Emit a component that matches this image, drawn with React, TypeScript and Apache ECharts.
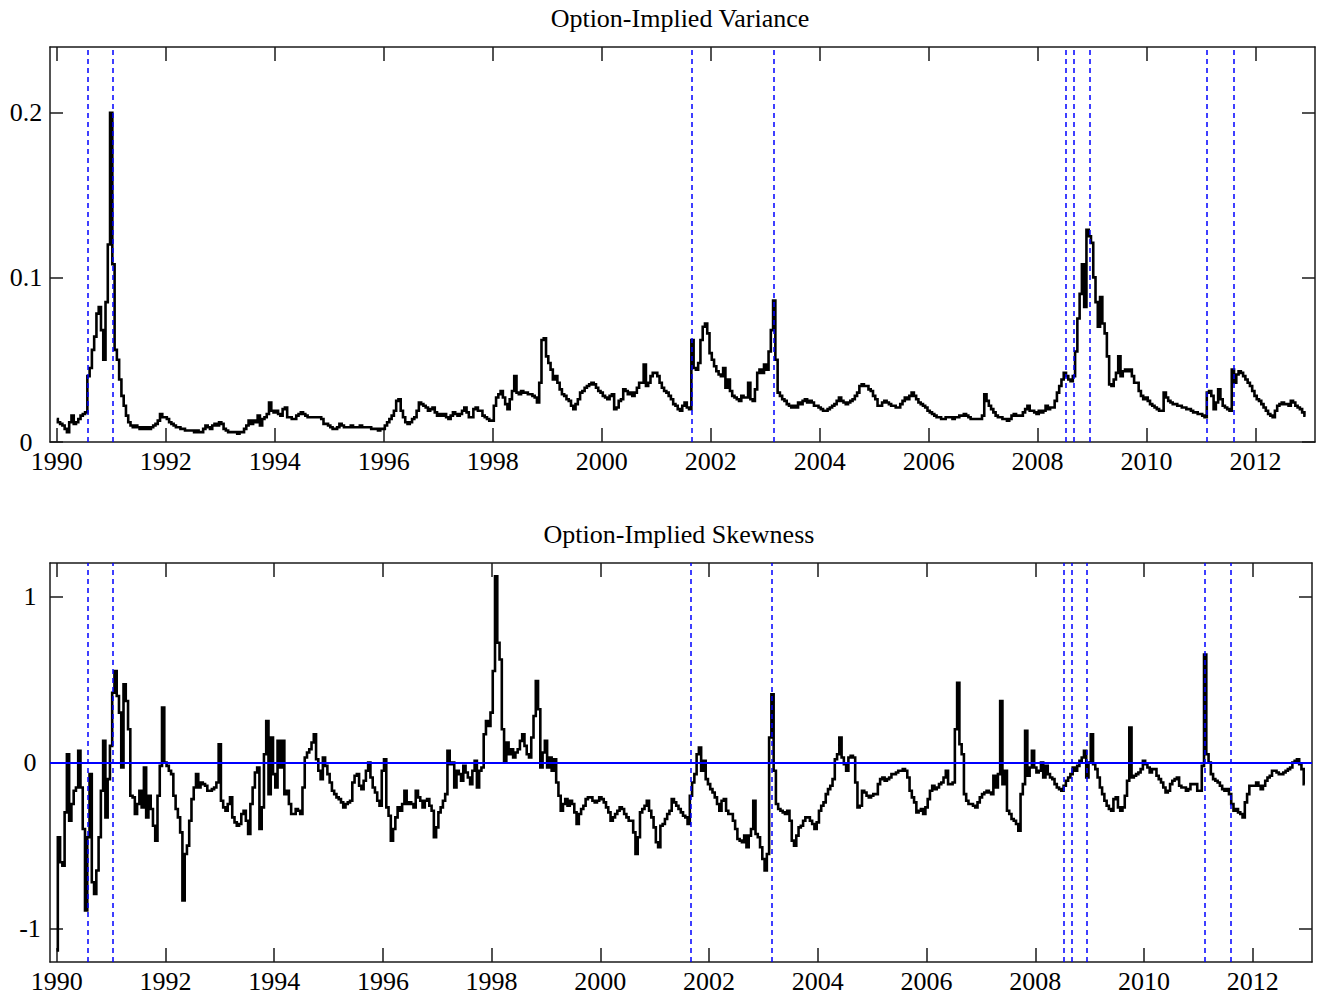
import React, { useEffect, useRef } from "react";
import * as echarts from "echarts";

// ---------- data ----------
const START_YEAR = 1990;
const POINTS_PER_YEAR = 24; // half-monthly observations

const yearTicks = [1990, 1992, 1994, 1996, 1998, 2000, 2002, 2004, 2006, 2008, 2010, 2012];
const varianceTicks = [0, 0.1, 0.2];
const skewnessTicks = [-1, 0, 1];
const eventDates = [1990.57, 1991.03, 2001.66, 2003.15, 2008.52, 2008.67, 2008.95, 2011.11, 2011.6];

const titleVariance = "Option-Implied Variance";
const titleSkewness = "Option-Implied Skewness";

// option-implied variance, half-monthly, Jan 1990 onwards
const variance = [
  0.014, 0.012, 0.011, 0.010, 0.008, 0.006, 0.012, 0.016, 0.011, 0.012, 0.014, 0.016, 0.017, 0.018, 0.040, 0.045, 0.056, 0.064, 0.078, 0.082, 0.068, 0.050, 0.085, 0.120,
  0.200, 0.108, 0.056, 0.050, 0.038, 0.028, 0.022, 0.016, 0.012, 0.010, 0.009, 0.010, 0.009, 0.008, 0.009, 0.008, 0.009, 0.008, 0.009, 0.010, 0.011, 0.013, 0.017, 0.015,
  0.015, 0.014, 0.012, 0.011, 0.010, 0.009, 0.009, 0.008, 0.008, 0.007, 0.007, 0.007, 0.007, 0.006, 0.007, 0.006, 0.006, 0.008, 0.010, 0.009, 0.008, 0.010, 0.011, 0.010,
  0.012, 0.011, 0.008, 0.007, 0.006, 0.006, 0.006, 0.006, 0.005, 0.006, 0.006, 0.008, 0.010, 0.013, 0.011, 0.013, 0.012, 0.016, 0.010, 0.014, 0.015, 0.017, 0.024, 0.019,
  0.018, 0.019, 0.017, 0.016, 0.020, 0.021, 0.015, 0.015, 0.014, 0.014, 0.016, 0.017, 0.018, 0.017, 0.016, 0.015, 0.015, 0.015, 0.015, 0.015, 0.015, 0.014, 0.011, 0.011,
  0.010, 0.009, 0.008, 0.008, 0.009, 0.011, 0.010, 0.009, 0.009, 0.009, 0.010, 0.009, 0.009, 0.009, 0.010, 0.009, 0.009, 0.009, 0.009, 0.008, 0.008, 0.008, 0.007, 0.008,
  0.008, 0.010, 0.012, 0.014, 0.016, 0.019, 0.025, 0.026, 0.019, 0.015, 0.012, 0.011, 0.012, 0.014, 0.015, 0.019, 0.024, 0.023, 0.022, 0.021, 0.019, 0.020, 0.021, 0.018,
  0.016, 0.017, 0.016, 0.017, 0.015, 0.014, 0.016, 0.018, 0.017, 0.016, 0.017, 0.019, 0.021, 0.018, 0.015, 0.015, 0.020, 0.021, 0.019, 0.019, 0.016, 0.015, 0.014, 0.013,
  0.013, 0.022, 0.027, 0.029, 0.031, 0.027, 0.023, 0.020, 0.026, 0.031, 0.040, 0.030, 0.029, 0.031, 0.030, 0.030, 0.029, 0.029, 0.028, 0.027, 0.024, 0.036, 0.062, 0.063,
  0.052, 0.048, 0.044, 0.038, 0.040, 0.036, 0.032, 0.029, 0.028, 0.026, 0.025, 0.022, 0.020, 0.023, 0.026, 0.030, 0.031, 0.033, 0.034, 0.035, 0.036, 0.035, 0.033, 0.031,
  0.030, 0.028, 0.027, 0.026, 0.028, 0.029, 0.020, 0.021, 0.025, 0.026, 0.032, 0.031, 0.029, 0.030, 0.028, 0.030, 0.033, 0.036, 0.036, 0.047, 0.034, 0.036, 0.040, 0.042,
  0.042, 0.040, 0.036, 0.033, 0.031, 0.030, 0.028, 0.026, 0.023, 0.022, 0.020, 0.019, 0.022, 0.024, 0.021, 0.020, 0.062, 0.045, 0.044, 0.048, 0.062, 0.070, 0.072, 0.066,
  0.054, 0.050, 0.046, 0.043, 0.041, 0.040, 0.045, 0.033, 0.038, 0.031, 0.028, 0.027, 0.026, 0.025, 0.028, 0.027, 0.027, 0.036, 0.026, 0.025, 0.032, 0.042, 0.044, 0.042,
  0.047, 0.044, 0.055, 0.068, 0.086, 0.050, 0.030, 0.028, 0.026, 0.025, 0.023, 0.022, 0.021, 0.022, 0.021, 0.024, 0.023, 0.025, 0.026, 0.024, 0.025, 0.024, 0.022, 0.022,
  0.021, 0.020, 0.019, 0.019, 0.020, 0.021, 0.022, 0.023, 0.025, 0.027, 0.025, 0.024, 0.023, 0.024, 0.025, 0.026, 0.028, 0.030, 0.034, 0.035, 0.034, 0.034, 0.032, 0.031,
  0.028, 0.026, 0.022, 0.022, 0.024, 0.025, 0.024, 0.023, 0.022, 0.022, 0.021, 0.021, 0.023, 0.025, 0.027, 0.026, 0.028, 0.030, 0.028, 0.026, 0.024, 0.023, 0.022, 0.021,
  0.019, 0.018, 0.017, 0.016, 0.015, 0.015, 0.014, 0.014, 0.015, 0.015, 0.015, 0.014, 0.015, 0.015, 0.016, 0.016, 0.017, 0.016, 0.015, 0.014, 0.014, 0.014, 0.014, 0.014,
  0.016, 0.029, 0.025, 0.022, 0.020, 0.018, 0.016, 0.015, 0.015, 0.014, 0.014, 0.013, 0.014, 0.016, 0.017, 0.016, 0.016, 0.016, 0.018, 0.020, 0.022, 0.019, 0.019, 0.018,
  0.017, 0.019, 0.018, 0.019, 0.022, 0.020, 0.021, 0.021, 0.025, 0.030, 0.034, 0.038, 0.042, 0.040, 0.038, 0.037, 0.040, 0.055, 0.075, 0.090, 0.108, 0.082, 0.129, 0.125,
  0.121, 0.100, 0.085, 0.070, 0.088, 0.072, 0.066, 0.052, 0.035, 0.034, 0.038, 0.042, 0.052, 0.040, 0.043, 0.044, 0.043, 0.044, 0.040, 0.036, 0.036, 0.031, 0.028, 0.026,
  0.027, 0.025, 0.023, 0.022, 0.021, 0.020, 0.019, 0.019, 0.030, 0.027, 0.025, 0.024, 0.023, 0.023, 0.022, 0.022, 0.021, 0.021, 0.020, 0.020, 0.019, 0.018, 0.018, 0.017,
  0.017, 0.016, 0.015, 0.030, 0.031, 0.028, 0.020, 0.024, 0.032, 0.026, 0.022, 0.021, 0.020, 0.019, 0.044, 0.036, 0.041, 0.043, 0.042, 0.040, 0.038, 0.036, 0.034, 0.031,
  0.028, 0.026, 0.025, 0.023, 0.021, 0.019, 0.017, 0.016, 0.015, 0.019, 0.022, 0.023, 0.024, 0.023, 0.023, 0.022, 0.025, 0.024, 0.022, 0.021, 0.020, 0.018, 0.016,
];

// option-implied skewness, half-monthly, Jan 1990 onwards
const skewness = [
  -1.13, -0.45, -0.60, -0.62, -0.30, 0.05, -0.35, -0.25, -0.17, -0.15, 0.07, -0.15, -0.40, -0.89, -0.45, -0.07, -0.72, -0.79, -0.65, -0.45, -0.17, 0.13, -0.33, -0.10,
  0.10, 0.42, 0.55, 0.40, 0.30, -0.03, 0.47, 0.37, 0.20, -0.20, -0.21, -0.31, -0.25, -0.17, -0.27, -0.03, -0.33, -0.20, -0.28, -0.38, -0.47, -0.20, -0.02, 0.33,
  0.00, -0.02, -0.05, -0.07, -0.20, -0.28, -0.33, -0.42, -0.83, -0.55, -0.50, -0.35, -0.22, -0.15, -0.07, -0.15, -0.12, -0.13, -0.14, -0.17, -0.17, -0.16, -0.15, -0.12,
  0.11, -0.23, -0.27, -0.29, -0.25, -0.21, -0.33, -0.36, -0.38, -0.37, -0.31, -0.29, -0.35, -0.43, -0.25, -0.15, -0.06, -0.03, -0.40, -0.27, 0.05, 0.25, -0.19, 0.15,
  -0.07, -0.15, 0.13, -0.03, 0.13, -0.19, -0.17, -0.25, -0.31, -0.31, -0.28, -0.29, -0.31, -0.15, 0.03, 0.06, 0.08, 0.12, 0.17, 0.02, -0.05, -0.10, 0.03, -0.02,
  -0.07, -0.12, -0.17, -0.19, -0.21, -0.22, -0.24, -0.27, -0.25, -0.24, -0.23, -0.12, -0.08, -0.07, -0.14, -0.16, -0.11, -0.05, 0.00, -0.09, -0.15, -0.18, -0.23, -0.26,
  -0.05, 0.02, -0.27, -0.32, -0.47, -0.40, -0.33, -0.27, -0.29, -0.25, -0.17, -0.25, -0.24, -0.25, -0.27, -0.17, -0.21, -0.23, -0.27, -0.23, -0.22, -0.26, -0.29, -0.45,
  -0.39, -0.30, -0.27, -0.23, -0.19, 0.07, -0.01, 0.00, -0.15, -0.05, -0.07, -0.11, -0.02, -0.06, -0.09, -0.13, -0.05, 0.01, -0.15, -0.05, -0.03, 0.17, 0.25, 0.22,
  0.30, 0.55, 1.12, 0.72, 0.62, 0.20, 0.00, 0.12, 0.05, 0.08, 0.03, 0.06, 0.08, 0.13, 0.17, 0.10, 0.05, 0.03, 0.15, 0.28, 0.49, 0.32, -0.03, 0.06,
  0.13, -0.03, 0.03, -0.05, 0.02, -0.12, -0.20, -0.29, -0.25, -0.22, -0.26, -0.23, -0.25, -0.30, -0.37, -0.31, -0.28, -0.26, -0.22, -0.21, -0.21, -0.23, -0.24, -0.23,
  -0.21, -0.22, -0.24, -0.27, -0.30, -0.35, -0.33, -0.31, -0.29, -0.27, -0.28, -0.31, -0.33, -0.35, -0.35, -0.42, -0.55, -0.45, -0.30, -0.28, -0.26, -0.23, -0.29, -0.33,
  -0.39, -0.48, -0.51, -0.38, -0.37, -0.34, -0.31, -0.29, -0.22, -0.24, -0.26, -0.28, -0.30, -0.32, -0.33, -0.37, -0.20, -0.12, -0.07, 0.05, 0.09, -0.05, 0.01, -0.10,
  -0.13, -0.16, -0.18, -0.21, -0.25, -0.29, -0.23, -0.22, -0.29, -0.31, -0.31, -0.35, -0.40, -0.46, -0.47, -0.48, -0.44, -0.51, -0.44, -0.40, -0.23, -0.43, -0.45, -0.51,
  -0.58, -0.65, -0.55, 0.15, 0.41, -0.05, -0.25, -0.28, -0.29, -0.30, -0.31, -0.29, -0.35, -0.47, -0.50, -0.44, -0.39, -0.38, -0.35, -0.33, -0.33, -0.35, -0.37, -0.40,
  -0.36, -0.29, -0.26, -0.24, -0.19, -0.16, -0.14, -0.10, 0.02, 0.05, 0.15, 0.03, -0.01, -0.05, 0.03, 0.04, 0.03, -0.12, -0.27, -0.26, -0.17, -0.18, -0.20, -0.21,
  -0.20, -0.19, -0.19, -0.13, -0.10, -0.09, -0.11, -0.10, -0.09, -0.07, -0.07, -0.06, -0.05, -0.05, -0.04, -0.05, -0.09, -0.17, -0.21, -0.24, -0.30, -0.29, -0.28, -0.31,
  -0.27, -0.22, -0.17, -0.14, -0.16, -0.15, -0.13, -0.12, -0.09, -0.05, -0.13, -0.13, -0.12, 0.20, 0.48, 0.11, 0.05, -0.19, -0.23, -0.25, -0.25, -0.26, -0.27, -0.24,
  -0.21, -0.19, -0.18, -0.17, -0.18, -0.19, -0.08, -0.15, -0.07, 0.37, -0.13, -0.05, -0.29, -0.31, -0.34, -0.35, -0.37, -0.41, -0.19, -0.13, 0.19, -0.08, -0.03, 0.07,
  -0.03, -0.06, -0.05, 0.00, -0.09, -0.02, -0.07, -0.09, -0.10, -0.13, -0.15, -0.16, -0.17, -0.14, -0.11, -0.09, -0.07, -0.03, -0.05, -0.02, 0.01, 0.03, 0.07, -0.09,
  0.00, 0.17, -0.01, -0.04, -0.09, -0.15, -0.19, -0.23, -0.26, -0.28, -0.29, -0.22, -0.21, -0.27, -0.29, -0.27, -0.20, -0.11, 0.21, -0.09, -0.08, -0.07, -0.06, -0.04,
  0.01, -0.01, -0.03, -0.06, -0.04, -0.04, -0.08, -0.10, -0.12, -0.15, -0.18, -0.17, -0.13, -0.11, -0.10, -0.09, -0.14, -0.15, -0.15, -0.17, -0.16, -0.13, -0.13, -0.13,
  -0.17, -0.17, -0.02, 0.65, 0.05, 0.00, -0.07, -0.10, -0.11, -0.12, -0.14, -0.16, -0.17, -0.16, -0.19, -0.25, -0.29, -0.28, -0.30, -0.31, -0.33, -0.24, -0.19, -0.14,
  -0.14, -0.14, -0.12, -0.14, -0.16, -0.14, -0.11, -0.09, -0.08, -0.05, -0.05, -0.06, -0.07, -0.07, -0.06, -0.05, -0.04, -0.03, 0.00, 0.01, 0.02, -0.01, -0.04, -0.13,
];

// ---------- styling ----------
const FONT = "'Liberation Serif', 'Times New Roman', serif";
const FONT_SIZE = 26;
const X_MIN = 1989.877;
const X_MAX = 2013.09;
const FRAME = { color: "#1a1a1a", width: 1.5 };

const toPairs = (vals: number[]) => vals.map((v, i) => [START_YEAR + i / POINTS_PER_YEAR, v]);

const fmtNum = (v: number) => String(Math.round(v * 100) / 100);

function xAxisFor(gridIndex: number, position: "top" | "bottom", showLabels: boolean) {
  return {
    type: "value",
    gridIndex,
    position,
    min: X_MIN,
    max: X_MAX,
    axisLine: { show: true, onZero: false, lineStyle: FRAME },
    axisTick: { show: true, inside: true, length: 14, customValues: yearTicks, lineStyle: FRAME },
    axisLabel: {
      show: showLabels,
      customValues: yearTicks,
      margin: 6,
      fontSize: FONT_SIZE,
      fontFamily: FONT,
      color: "#000",
      formatter: (v: number) => String(Math.round(v)),
    },
    splitLine: { show: false },
  };
}

function yAxisFor(
  gridIndex: number,
  position: "left" | "right",
  min: number,
  max: number,
  ticks: number[],
  showLabels: boolean,
  margin: number
) {
  return {
    type: "value",
    gridIndex,
    position,
    min,
    max,
    axisLine: { show: true, onZero: false, lineStyle: FRAME },
    axisTick: { show: true, inside: true, length: 13, customValues: ticks, lineStyle: FRAME },
    axisLabel: {
      show: showLabels,
      customValues: ticks,
      margin,
      align: "center",
      fontSize: FONT_SIZE,
      fontFamily: FONT,
      color: "#000",
      formatter: (v: number) => fmtNum(v),
    },
    splitLine: { show: false },
  };
}

const eventLines = eventDates.map((d) => ({ xAxis: d }));
const dashStyle = { color: "#0000ff", width: 1.5, type: [5, 4] as number[] };
const seriesLine = { color: "#000", width: 2.6, join: "miter" as const };

export default function App() {
  const ref = useRef<HTMLDivElement>(null);

  useEffect(() => {
    if (!ref.current) return;
    const chart = echarts.init(ref.current, null, { renderer: "svg" });
    const option = {
      animation: false,
      backgroundColor: "#ffffff",
      graphic: [
        {
          type: "text",
          x: 680,
          y: 18,
          style: { text: titleVariance, fontSize: FONT_SIZE, fontFamily: FONT, fill: "#000", align: "center", verticalAlign: "middle" },
        },
        {
          type: "text",
          x: 679,
          y: 534,
          style: { text: titleSkewness, fontSize: FONT_SIZE, fontFamily: FONT, fill: "#000", align: "center", verticalAlign: "middle" },
        },
      ],
      grid: [
        { left: 50, top: 47, width: 1265, height: 395 },
        { left: 50, top: 563, width: 1262, height: 399 },
      ],
      xAxis: [
        xAxisFor(0, "bottom", true),
        xAxisFor(0, "top", false),
        xAxisFor(1, "bottom", true),
        xAxisFor(1, "top", false),
      ],
      yAxis: [
        yAxisFor(0, "left", 0, 0.24, varianceTicks, true, 24),
        yAxisFor(0, "right", 0, 0.24, varianceTicks, false, 8),
        yAxisFor(1, "left", -1.2, 1.2, skewnessTicks, true, 20),
        yAxisFor(1, "right", -1.2, 1.2, skewnessTicks, false, 8),
      ],
      series: [
        {
          type: "line",
          name: titleVariance,
          xAxisIndex: 0,
          yAxisIndex: 0,
          data: toPairs(variance),
          step: "middle",
          showSymbol: false,
          symbol: "none",
          lineStyle: seriesLine,
          silent: true,
          markLine: {
            silent: true,
            symbol: ["none", "none"],
            label: { show: false },
            lineStyle: dashStyle,
            data: eventLines,
          },
        },
        {
          type: "line",
          name: titleSkewness,
          xAxisIndex: 2,
          yAxisIndex: 2,
          data: toPairs(skewness),
          step: "middle",
          showSymbol: false,
          symbol: "none",
          lineStyle: seriesLine,
          silent: true,
          markLine: {
            silent: true,
            symbol: ["none", "none"],
            label: { show: false },
            lineStyle: dashStyle,
            data: [
              ...eventLines,
              { yAxis: 0, lineStyle: { color: "#0000ff", width: 2, type: "solid" } },
            ],
          },
        },
      ],
    };
    chart.setOption(option as any);
    return () => chart.dispose();
  }, []);

  return (
    <div
      ref={ref}
      style={{ position: "absolute", left: 0, top: 0, width: 1317, height: 996, background: "#fff" }}
    />
  );
}
